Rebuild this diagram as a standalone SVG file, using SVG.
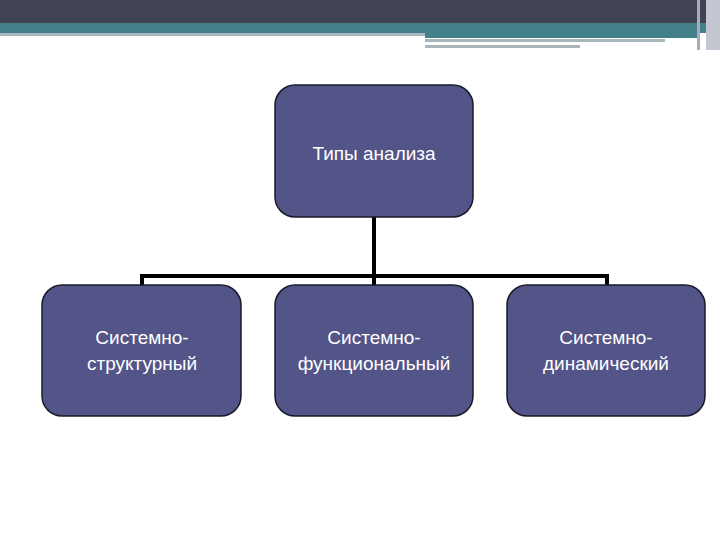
<svg xmlns="http://www.w3.org/2000/svg" width="720" height="540" viewBox="0 0 720 540">
<style>
.n{fill:#535487;stroke:#1a1a2a;stroke-width:1.5}
.t{font-family:"Liberation Sans",Arial,sans-serif;font-size:19px;fill:#ffffff;text-anchor:middle}
.c{stroke:#000;stroke-width:4;fill:none}
</style>
<rect width="720" height="540" fill="#fff"/>
<g id="header">
<rect x="0" y="0" width="720" height="23" fill="#3f4354"/>
<rect x="0" y="23" width="720" height="10" fill="#44808a"/>
<rect x="0" y="33" width="425" height="3" fill="#a7b6bb"/>
<rect x="425" y="33" width="275" height="5" fill="#44808a"/>
<rect x="425" y="39" width="240" height="3" fill="#a7b6bb"/>
<rect x="425" y="45" width="155" height="3" fill="#a7b6bb"/>
<rect x="697" y="0" width="3" height="50" fill="#aab"/>
<rect x="706" y="0" width="14" height="50" fill="#c4c6d2"/>
</g>
<g id="connectors">
<path class="c" d="M374 217V276M142 286V276H607V286M374 276V286"/>
</g>
<g id="n0"><rect class="n" x="275" y="85" width="198" height="132" rx="20"/><text class="t" x="374" y="160">Типы  анализа</text></g>
<g id="n1"><rect class="n" x="42" y="285" width="199" height="131" rx="20"/><text class="t" x="142" y="344">Системно-</text><text class="t" x="142" y="370">структурный</text></g>
<g id="n2"><rect class="n" x="275" y="285" width="198" height="131" rx="20"/><text class="t" x="374" y="344">Системно-</text><text class="t" x="374" y="370">функциональный</text></g>
<g id="n3"><rect class="n" x="507" y="285" width="198" height="131" rx="20"/><text class="t" x="606" y="344">Системно-</text><text class="t" x="606" y="370">динамический</text></g>
</svg>
